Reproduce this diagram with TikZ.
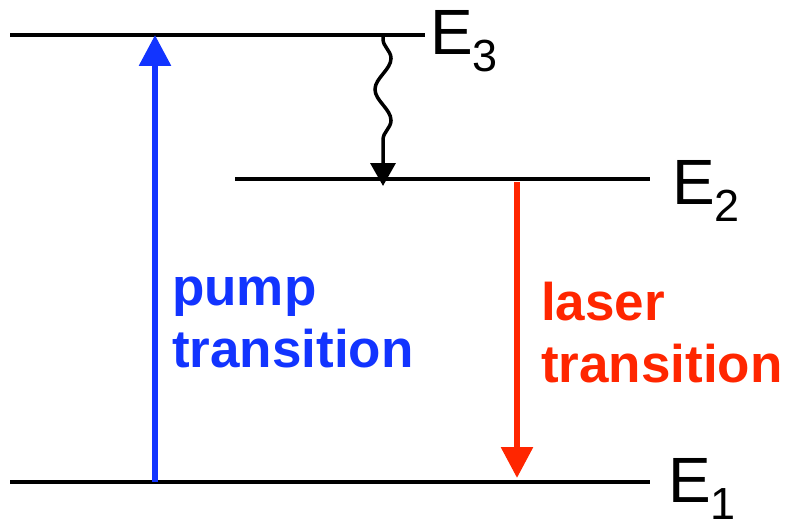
\documentclass[tikz,border=0pt]{standalone}
\usepackage{fontspec}
\setmainfont{Liberation Sans}
\usetikzlibrary{arrows.meta,positioning,calc,decorations.pathmorphing}
\definecolor{pumpblue}{RGB}{18,52,255}
\definecolor{laserred}{RGB}{255,38,0}
\tikzset{
  lvl/.style      = {draw=black, line width=4pt},
  lvllabel/.style = {inner sep=0pt, anchor=base west,
                     font=\fontsize{64}{64}\selectfont},
  pumpflow/.style = {draw=pumpblue, line width=6pt,
                     -{Triangle[width=31pt,length=31pt]}},
  laserflow/.style= {draw=laserred, line width=6pt,
                     -{Triangle[width=31pt,length=31pt]}},
  relax/.style    = {draw=black, line width=3.5pt,
                     decorate, decoration={snake, amplitude=8pt,
                     segment length=62pt, pre length=4pt, post length=22pt},
                     -{Triangle[width=25pt,length=23pt]}},
  caption/.style  = {inner sep=0pt, anchor=base west, align=left,
                     font=\fontsize{53}{62}\selectfont\bfseries},
}
\newcommand{\lvlsub}[1]{\raisebox{-17pt}{\fontsize{45}{45}\selectfont #1}}

\begin{document}
\begin{tikzpicture}[x=1pt, y=-1pt]
\useasboundingbox (0,0) rectangle (787,519);
% energy levels
\coordinate (e3w) at (10,35);
\coordinate (e3e) at (425,35);
\coordinate (e2w) at (235,179);
\coordinate (e2e) at (650,179);
\coordinate (e1w) at (10,482);
\coordinate (e1e) at (650,482);
\draw[lvl] (e3w) -- (e3e);
\draw[lvl] (e2w) -- (e2e);
\draw[lvl] (e1w) -- (e1e);
\node[lvllabel] (e3lab) at (430,55) {E\lvlsub{3}};
\node[lvllabel] (e2lab) at (672,204) {E\lvlsub{2}};
\node[lvllabel] (e1lab) at (668,502) {E\lvlsub{1}};
% transitions
\coordinate (pumpfoot) at (155,482);
\coordinate (pumptip) at (155,35);
\coordinate (laserfoot) at (517,182);
\coordinate (lasertip) at (517,478);
\coordinate (relaxfoot) at (383,35);
\coordinate (relaxtip) at (383,186);
\draw[pumpflow] (pumpfoot) -- (pumptip);
\draw[laserflow] (laserfoot) -- (lasertip);
\draw[relax] (relaxfoot) -- (relaxtip);
\node[caption, text=pumpblue] (pumplab) at (172,367) {pump\\transition};
\node[caption, text=laserred] (laserlab) at (541,382) {laser\\transition};
\end{tikzpicture}
\end{document}
